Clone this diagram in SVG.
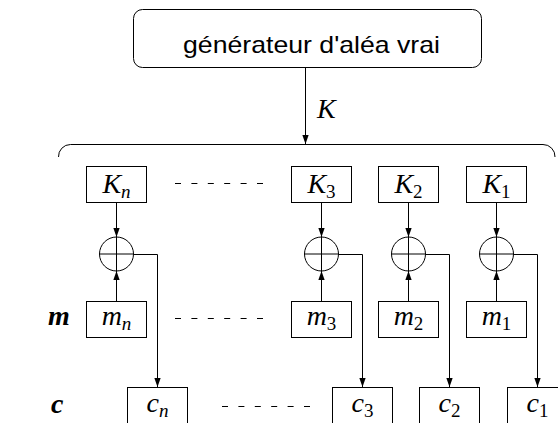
<svg xmlns="http://www.w3.org/2000/svg" width="558" height="423" viewBox="0 0 558 423">
<defs>
<marker id="ahb" viewBox="0 0 10 10" refX="10" refY="5" markerWidth="9" markerHeight="9" orient="auto" markerUnits="userSpaceOnUse">
<path d="M0,1.5 L10,5 L0,8.5 z" fill="#000"/>
</marker>
</defs>
<style>
.box{fill:#fff;stroke:#000;stroke-width:1}
.ln{fill:none;stroke:#000;stroke-width:1}
.dash{fill:none;stroke:#000;stroke-width:1;stroke-dasharray:6 10.4}
.math{font-family:"Liberation Serif","Times New Roman",serif;font-style:italic;font-size:28px;fill:#000}
.sub{font-size:19px;font-style:italic}
.subn{font-size:19px;font-style:normal}
.bold{font-family:"Liberation Serif",serif;font-style:italic;font-weight:bold;font-size:28px;fill:#000}
.sans{font-family:"Liberation Sans","DejaVu Sans",sans-serif;font-size:24px;fill:#000}
</style>
<rect width="558" height="423" fill="#fff"/>

<g id="generator">
<rect class="box" x="133.5" y="9.5" width="348" height="58" rx="9" ry="9"/>
<text class="sans" x="311.5" y="53" text-anchor="middle" textLength="257" lengthAdjust="spacingAndGlyphs">générateur d'aléa vrai</text>
</g>

<g id="brace">
<path class="ln" d="M58.5,157 A12,12 0 0 1 70.5,144.5 L543,144.5 A12,12 0 0 1 555,157"/>
</g>

<g id="labelK"><text class="math" x="317" y="118">K</text></g>
<g id="labelm"><text class="bold" x="48" y="325">m</text></g>
<g id="labelc"><text class="bold" x="51" y="413">c</text></g>

<g id="Kn"><rect class="box" x="86.5" y="166.5" width="60" height="36"/><text class="math" x="116.5" y="193" text-anchor="middle">K<tspan class="sub" dy="5">n</tspan></text></g>
<g id="K3"><rect class="box" x="291.5" y="166.5" width="60" height="36"/><text class="math" x="321.5" y="193" text-anchor="middle">K<tspan class="subn" dy="5">3</tspan></text></g>
<g id="K2"><rect class="box" x="378.5" y="166.5" width="60" height="36"/><text class="math" x="408.5" y="193" text-anchor="middle">K<tspan class="subn" dy="5">2</tspan></text></g>
<g id="K1"><rect class="box" x="466.5" y="166.5" width="60" height="36"/><text class="math" x="496.5" y="193" text-anchor="middle">K<tspan class="subn" dy="5">1</tspan></text></g>

<g id="Xn"><circle class="ln" cx="116.5" cy="254" r="17"/><path class="ln" d="M99.5,254 H133.5 M116.5,237 V271"/></g>
<g id="X3"><circle class="ln" cx="321.5" cy="254" r="17"/><path class="ln" d="M304.5,254 H338.5 M321.5,237 V271"/></g>
<g id="X2"><circle class="ln" cx="408.5" cy="254" r="17"/><path class="ln" d="M391.5,254 H425.5 M408.5,237 V271"/></g>
<g id="X1"><circle class="ln" cx="496.5" cy="254" r="17"/><path class="ln" d="M479.5,254 H513.5 M496.5,237 V271"/></g>

<g id="mn"><rect class="box" x="86.5" y="301.5" width="60" height="36"/><text class="math" x="116.5" y="325" text-anchor="middle">m<tspan class="sub" dy="5">n</tspan></text></g>
<g id="m3"><rect class="box" x="291.5" y="301.5" width="60" height="36"/><text class="math" x="321.5" y="325" text-anchor="middle">m<tspan class="subn" dy="5">3</tspan></text></g>
<g id="m2"><rect class="box" x="378.5" y="301.5" width="60" height="36"/><text class="math" x="408.5" y="325" text-anchor="middle">m<tspan class="subn" dy="5">2</tspan></text></g>
<g id="m1"><rect class="box" x="466.5" y="301.5" width="60" height="36"/><text class="math" x="496.5" y="325" text-anchor="middle">m<tspan class="subn" dy="5">1</tspan></text></g>

<g id="cn"><rect class="box" x="127.5" y="387.5" width="60" height="50"/><text class="math" x="157.5" y="412" text-anchor="middle">c<tspan class="sub" dy="5">n</tspan></text></g>
<g id="c3"><rect class="box" x="332.5" y="387.5" width="60" height="50"/><text class="math" x="362.5" y="412" text-anchor="middle">c<tspan class="subn" dy="5">3</tspan></text></g>
<g id="c2"><rect class="box" x="419.5" y="387.5" width="60" height="50"/><text class="math" x="449.5" y="412" text-anchor="middle">c<tspan class="subn" dy="5">2</tspan></text></g>
<g id="c1"><rect class="box" x="507.5" y="387.5" width="60" height="50"/><text class="math" x="537.5" y="412" text-anchor="middle">c<tspan class="subn" dy="5">1</tspan></text></g>

<g id="connectors">
<path class="ln" d="M305.5,68 V144" marker-end="url(#ahb)"/>
<path class="ln" d="M116.5,203 V237" marker-end="url(#ahb)"/>
<path class="ln" d="M321.5,203 V237" marker-end="url(#ahb)"/>
<path class="ln" d="M408.5,203 V237" marker-end="url(#ahb)"/>
<path class="ln" d="M496.5,203 V237" marker-end="url(#ahb)"/>
<path class="ln" d="M116.5,301 V271" marker-end="url(#ahb)"/>
<path class="ln" d="M321.5,301 V271" marker-end="url(#ahb)"/>
<path class="ln" d="M408.5,301 V271" marker-end="url(#ahb)"/>
<path class="ln" d="M496.5,301 V271" marker-end="url(#ahb)"/>
<path class="ln" d="M133.5,254.5 H157.5 V387" marker-end="url(#ahb)"/>
<path class="ln" d="M338.5,254.5 H362.5 V387" marker-end="url(#ahb)"/>
<path class="ln" d="M425.5,254.5 H449.5 V387" marker-end="url(#ahb)"/>
<path class="ln" d="M513.5,254.5 H537.5 V387" marker-end="url(#ahb)"/>
<path class="dash" d="M175,183.5 H263"/>
<path class="dash" d="M175,318.5 H263"/>
<path class="dash" d="M222,406.5 H310"/>
</g>
</svg>
